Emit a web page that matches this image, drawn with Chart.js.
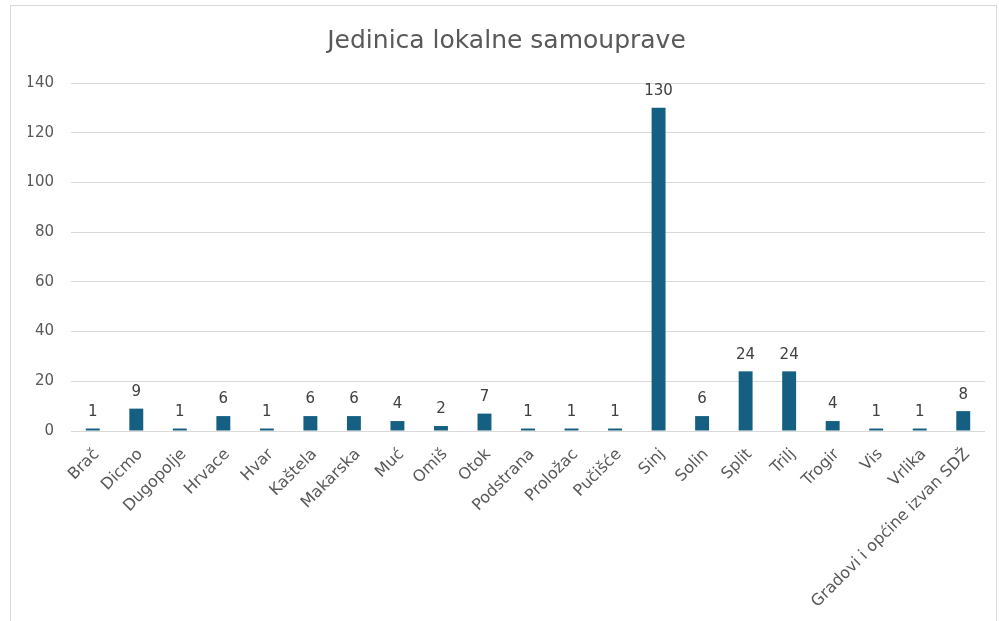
<!DOCTYPE html>
<html>
<head>
<meta charset="utf-8">
<script src="https://cdn.jsdelivr.net/npm/chart.js@4.4.1/dist/chart.umd.min.js"></script>
<style>
    html, body { margin: 0; padding: 0; background: #fff; }
    body { width: 999px; height: 621px; position: relative; overflow: hidden; }
    .frame {
        position: absolute; left: 10px; top: 5px; width: 987px; height: 700px;
        border: 1px solid #d9d9d9; box-sizing: border-box;
    }
    #wrap { position: absolute; left: 0; top: 0; width: 999px; height: 621px; }
</style>
</head>
<body>
<div class="frame"></div>
<div id="wrap"><canvas id="chart"></canvas></div>
<script>
// Chart data
const categories = ['Brač', 'Dicmo', 'Dugopolje', 'Hrvace', 'Hvar', 'Kaštela', 'Makarska', 'Muć', 'Omiš', 'Otok',
    'Podstrana', 'Proložac', 'Pučišće', 'Sinj', 'Solin', 'Split', 'Trilj', 'Trogir', 'Vis', 'Vrlika',
    'Gradovi i općine izvan SDŽ'];
const counts = [1, 9, 1, 6, 1, 6, 6, 4, 2, 7, 1, 1, 1, 130, 6, 24, 24, 4, 1, 1, 8];
const yTicks = [0, 20, 40, 60, 80, 100, 120, 140];

const FONT = "'DejaVu Sans', 'Liberation Sans', sans-serif";
const GREY = '#595959';

// Draw value labels above bars
const valueLabels = {
    id: 'valueLabels',
    afterDatasetsDraw(chart) {
        const ctx = chart.ctx;
        const meta = chart.getDatasetMeta(0);
        ctx.save();
        ctx.font = '15px ' + FONT;
        ctx.fillStyle = '#404040';
        ctx.textAlign = 'center';
        ctx.textBaseline = 'bottom';
        meta.data.forEach(function(bar, i) {
            ctx.fillText(String(counts[i]), bar.x, bar.y - 9);
        });
        ctx.restore();
    }
};

const ctx = document.getElementById('chart').getContext('2d');
new Chart(ctx, {
    type: 'bar',
    data: {
        labels: categories,
        datasets: [{
            data: counts,
            backgroundColor: '#156082',
            barPercentage: 0.64,
            categoryPercentage: 0.5
        }]
    },
    options: {
        responsive: true,
        maintainAspectRatio: false,
        animation: false,
        layout: { padding: { left: 28, right: 14, top: 0, bottom: 0 } },
        plugins: {
            legend: { display: false },
            tooltip: { enabled: false },
            title: {
                display: true,
                text: 'Jedinica lokalne samouprave',
                color: GREY,
                font: { family: FONT, size: 25, weight: 'normal' },
                padding: { top: 26, bottom: 27 }
            }
        },
        scales: {
            y: {
                min: 0,
                max: 140,
                afterBuildTicks: function(scale) {
                    scale.ticks = yTicks.map(v => ({ value: v }));
                },
                afterFit: function(scale) { scale.width = 43; },
                border: { display: false },
                grid: { color: '#d9d9d9', lineWidth: 1, drawTicks: false },
                ticks: {
                    color: GREY,
                    padding: 17,
                    font: { family: FONT, size: 15 }
                }
            },
            x: {
                afterFit: function(scale) { scale.height = 190; },
                border: { display: false },
                grid: { display: false, drawTicks: false },
                ticks: {
                    color: GREY,
                    padding: 14,
                    labelOffset: 4,
                    autoSkip: false,
                    maxRotation: 45,
                    minRotation: 45,
                    font: { family: FONT, size: 16 }
                }
            }
        }
    },
    plugins: [valueLabels]
});
</script>
</body>
</html>
